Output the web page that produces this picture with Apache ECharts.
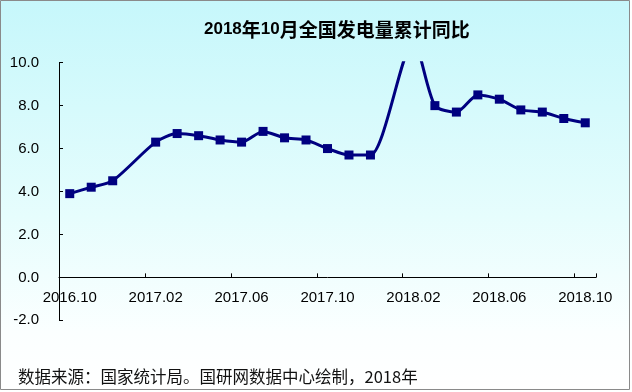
<!DOCTYPE html>
<html>
<head>
<meta charset="utf-8">
<script src="https://cdn.jsdelivr.net/npm/echarts@6/dist/echarts.min.js"></script>
<style>
html,body{margin:0;padding:0;background:#fff;}
#c{width:632px;height:392px;}
</style>
</head>
<body>
<div id="c"></div>
<script>
var months = ['2016.10','2016.11','2016.12','2017.01','2017.02','2017.03','2017.04','2017.05','2017.06','2017.07','2017.08','2017.09','2017.10','2017.11','2017.12','2018.01','2018.02','2018.03','2018.04','2018.05','2018.06','2018.07','2018.08','2018.09','2018.10'];
var growth = [3.9, 4.2, 4.5, null, 6.3, 6.7, 6.6, 6.4, 6.3, 6.8, 6.5, 6.4, 6.0, 5.7, 5.7, null, 11.0, 8.0, 7.7, 8.5, 8.3, 7.8, 7.7, 7.4, 7.2];
var yTicks = [-2, 0, 2, 4, 6, 8, 10];
var titleText = '2018年10月全国发电量累计同比';
var sourceText = '数据来源：国家统计局。国研网数据中心绘制，2018年';

var chart = echarts.init(document.getElementById('c'), null, {renderer: 'canvas'});

function titleRich(s) {
  var parts = s.match(/[0-9]+|[^0-9]+/g);
  return parts.map(function (p) { return /^[0-9]+$/.test(p) ? '{d|' + p + '}' : '{c|' + p + '}'; }).join('');
}

var gridTop = 62.7, gridBottomPx = 320.3;
var zeroOffset = -(gridBottomPx - (gridTop + (gridBottomPx - gridTop) * (10 - 0) / 12));

var option = {
  animation: false,
  backgroundColor: {
    type: 'linear', x: 0, y: 0, x2: 0, y2: 1,
    colorStops: [
      {offset: 0, color: '#c6f7fb'},
      {offset: 0.55, color: '#e6fdfd'},
      {offset: 0.85, color: '#fbffff'},
      {offset: 1, color: '#ffffff'}
    ]
  },
  graphic: [
    {
      type: 'rect', silent: true, z: 100,
      shape: {x: 0.5, y: 0.5, width: 629, height: 389},
      style: {fill: 'none', stroke: '#8a8a8a', lineWidth: 1}
    },
    {
      type: 'text', left: 18, top: 368, z: 100,
      style: {text: sourceText, font: '16.5px "Noto Sans CJK SC", sans-serif', fill: '#111'}
    },
    {
      type: 'rect', silent: true, z: 0,
      shape: {x: 630, y: 0, width: 2, height: 392},
      style: {fill: '#ffffff'}
    },
    {
      type: 'rect', silent: true, z: 0,
      shape: {x: 0, y: 390, width: 632, height: 2},
      style: {fill: '#ffffff'}
    }
  ],
  title: {
    text: titleRich(titleText),
    left: 199,
    top: 15,
    textStyle: {
      rich: {
        d: {fontFamily: '"Liberation Sans", Arial, sans-serif', fontWeight: 'bold', fontSize: 17, color: '#000'},
        c: {fontFamily: '"Noto Sans CJK SC", sans-serif', fontWeight: 'bold', fontSize: 19, color: '#000'}
      }
    }
  },
  grid: {left: 59, right: 36, top: gridTop, bottom: 392 - gridBottomPx, containLabel: false},
  xAxis: {
    type: 'category',
    data: months,
    boundaryGap: true,
    position: 'bottom',
    offset: zeroOffset,
    axisLine: {onZero: false, lineStyle: {color: '#000', width: 1}},
    axisTick: {show: true, inside: true, length: 4, interval: 3, lineStyle: {color: '#000'}},
    axisLabel: {interval: 3, margin: 13, fontSize: 15, color: '#000', fontFamily: '"Liberation Sans", Arial, sans-serif'},
    splitLine: {show: false}
  },
  yAxis: {
    type: 'value',
    min: yTicks[0],
    max: yTicks[yTicks.length - 1],
    interval: 2,
    axisLine: {show: true, onZero: false, lineStyle: {color: '#000', width: 1}},
    axisTick: {show: true, inside: true, length: 4, lineStyle: {color: '#000'}},
    axisLabel: {margin: 20, fontSize: 15, color: '#000', fontFamily: '"Liberation Sans", Arial, sans-serif',
      formatter: function (v) { return v.toFixed(1); }},
    splitLine: {show: false}
  },
  series: [{
    type: 'line',
    data: growth,
    connectNulls: true,
    smooth: 0.25,
    clip: true,
    symbol: 'rect',
    symbolSize: 9,
    showAllSymbol: true,
    lineStyle: {color: '#000080', width: 3},
    itemStyle: {color: '#000080'}
  }]
};
chart.setOption(option);
</script>
</body>
</html>
